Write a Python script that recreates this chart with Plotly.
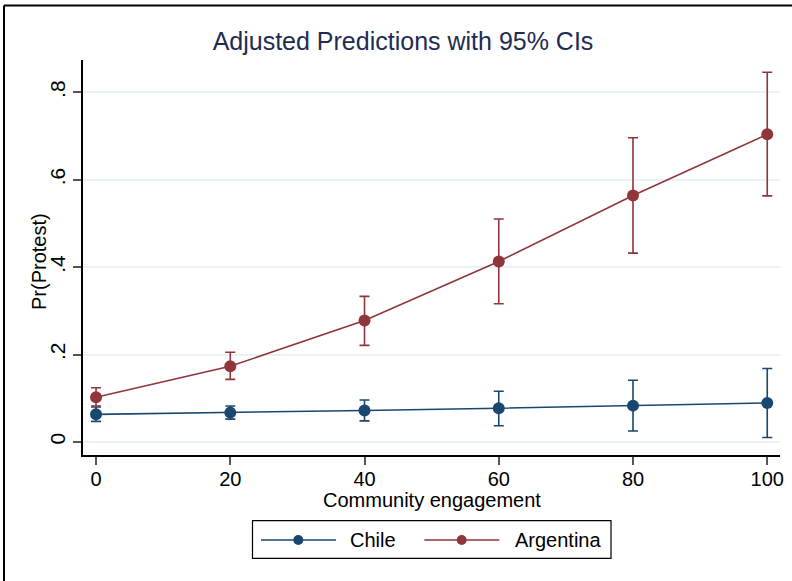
import plotly.graph_objects as go

engagement = [0, 20, 40, 60, 80, 100]

chile_pred = [0.063, 0.067, 0.072, 0.077, 0.083, 0.089]
chile_lo = [0.047, 0.052, 0.048, 0.037, 0.025, 0.010]
chile_hi = [0.080, 0.082, 0.096, 0.116, 0.141, 0.168]

arg_pred = [0.102, 0.173, 0.278, 0.413, 0.564, 0.704]
arg_lo = [0.082, 0.143, 0.221, 0.316, 0.432, 0.563]
arg_hi = [0.124, 0.205, 0.333, 0.510, 0.696, 0.846]

y_ticks = [0, 0.2, 0.4, 0.6, 0.8]
y_ticklabels = ["0", ".2", ".4", ".6", ".8"]
x_ticks = [0, 20, 40, 60, 80, 100]

series_names = ["Chile", "Argentina"]
title_text = "Adjusted Predictions with 95% CIs"
x_title = "Community engagement"
y_title = "Pr(Protest)"

navy = "#1a476f"
maroon = "#90353b"
colors = [navy, maroon]

W, H = 792, 581
ML, MR, MT, MB = 83, 12, 60, 126
pw = W - ML - MR
ph = H - MT - MB

def px_x(px):
    return (px - ML) / pw

def px_y(py):
    return (H - MB - py) / ph

fig = go.Figure()

def add_series(name, pred, lo, hi, color):
    fig.add_trace(go.Scatter(
        x=engagement, y=pred, name=name, mode="lines+markers",
        line=dict(color=color, width=1.6),
        marker=dict(color=color, size=12),
        error_y=dict(type="data", symmetric=False,
                     array=[h - p for h, p in zip(hi, pred)],
                     arrayminus=[p - l for p, l in zip(pred, lo)],
                     color=color, thickness=1.6, width=5),
        showlegend=False,
    ))

add_series(series_names[0], chile_pred, chile_lo, chile_hi, navy)
add_series(series_names[1], arg_pred, arg_lo, arg_hi, maroon)

# outer frame (top and left edges visible)
left_px, top_px = 4, 5.5
fig.add_shape(type="line", xref="paper", yref="paper",
              x0=px_x(left_px), x1=px_x(left_px),
              y0=px_y(H + 5), y1=px_y(top_px),
              line=dict(color="black", width=2))
fig.add_shape(type="line", xref="paper", yref="paper",
              x0=px_x(left_px), x1=px_x(W + 5),
              y0=px_y(top_px), y1=px_y(top_px),
              line=dict(color="black", width=2))

font_family = "Liberation Sans, Arial, Helvetica, sans-serif"

# axis titles
fig.add_annotation(xref="paper", yref="paper", x=px_x(432), y=px_y(500),
                   xanchor="center", yanchor="middle", showarrow=False,
                   text=x_title, font=dict(size=20, color="black"))
fig.add_annotation(xref="paper", yref="paper", x=px_x(39), y=px_y(262),
                   xanchor="center", yanchor="middle", showarrow=False,
                   textangle=-90, text=y_title, font=dict(size=20, color="black"))

# legend drawn as layout decoration
fig.add_shape(type="rect", xref="paper", yref="paper",
              x0=px_x(252.5), x1=px_x(611), y0=px_y(558.3), y1=px_y(520.7),
              line=dict(color="black", width=1.2), fillcolor="white")
leg_y = 540
leg_items = [(261, 336, 298.3, 348.3), (424.3, 499.3, 461.7, 512.7)]
for (lx0, lx1, mx, tx), name, col in zip(leg_items, series_names, colors):
    fig.add_shape(type="line", xref="paper", yref="paper",
                  x0=px_x(lx0), x1=px_x(lx1), y0=px_y(leg_y), y1=px_y(leg_y),
                  line=dict(color=col, width=1.6))
    fig.add_shape(type="circle", xref="paper", yref="paper",
                  x0=px_x(mx - 5), x1=px_x(mx + 5),
                  y0=px_y(leg_y + 5), y1=px_y(leg_y - 5),
                  line=dict(color=col, width=0), fillcolor=col)
    fig.add_annotation(xref="paper", yref="paper", x=px_x(tx), y=px_y(leg_y),
                       xanchor="left", yanchor="middle", showarrow=False,
                       text=name, font=dict(size=20, color="black"))

fig.update_layout(
    width=W, height=H,
    margin=dict(l=ML, r=MR, t=MT, b=MB, autoexpand=False),
    paper_bgcolor="white", plot_bgcolor="white",
    font=dict(family=font_family, color="black", size=20),
    title=dict(text=title_text,
               x=403 / W, xanchor="center", y=1 - 41 / H, yanchor="middle",
               font=dict(size=25, color="#1e2c53", family=font_family)),
    xaxis=dict(range=[-1.94, 101.9], tickvals=x_ticks, showgrid=False,
               zeroline=False, showline=True, linecolor="black", linewidth=1.5,
               ticks="outside", ticklen=8, tickcolor="#555555", tickwidth=1.5,
               automargin=False, ticklabelstandoff=-3,
               tickfont=dict(size=20)),
    yaxis=dict(range=[-0.030, 0.874], tickvals=y_ticks, ticktext=y_ticklabels,
               tickangle=-90, showgrid=True, gridcolor="#eaf2f3", gridwidth=1.5,
               zeroline=False, showline=True, linecolor="black", linewidth=1.5,
               ticks="outside", ticklen=8, tickcolor="#555555", tickwidth=1.5,
               automargin=False,
               tickfont=dict(size=21)),
    showlegend=False,
)

fig.write_html("out.html", config={"displayModeBar": False},
               post_script="document.body.style.margin='0';")
